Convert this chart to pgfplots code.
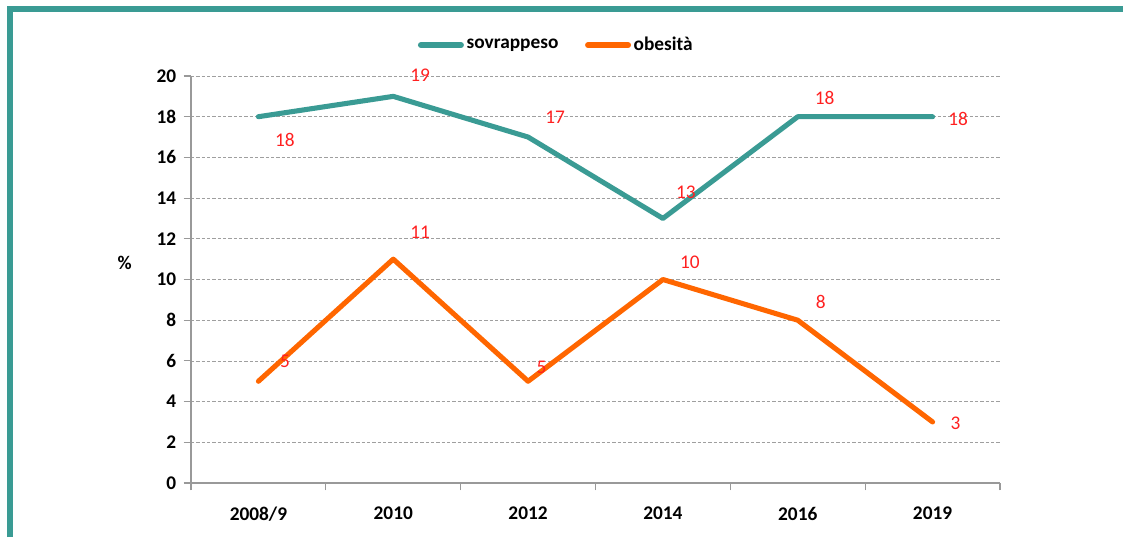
\documentclass[border=0pt]{standalone}
\usepackage{fontspec}
\setmainfont{Carlito}
\usepackage{pgfplots}
\pgfplotsset{compat=1.18}
\definecolor{teal1}{HTML}{3A9B94}
\definecolor{orng}{HTML}{FF6600}
\definecolor{lblred}{HTML}{FF2020}
\begin{document}
\begin{tikzpicture}
\path[use as bounding box] (0pt,0pt) rectangle (842.25pt,402.75pt);
\draw[teal1, line width=4.5pt] (7.5pt,0pt) -- (7.5pt,396pt) -- (842.25pt,396pt);
\begin{axis}[
  at={(143.25pt,40.5pt)}, anchor=south west,
  scale only axis, width=606.75pt, height=305.25pt,
  xmin=0, xmax=6, ymin=0, ymax=20,
  clip=false,
  axis x line*=bottom, axis y line*=left,
  axis line style={draw=gray!80, line width=0.8pt},
  xtick={0.5,1.5,2.5,3.5,4.5,5.5},
  xticklabels={2008/9,2010,2012,2014,2016,2019},
  xtick style={draw=none},
  minor xtick={0,1,2,3,4,5,6},
  minor x tick style={draw=gray!80, line width=0.8pt},
  minor tick length=5.5pt,
  ytick={0,2,...,20},
  ytick style={draw=gray!80, line width=0.8pt},
  major tick length=5.5pt,
  tick align=outside,
  ymajorgrids,
  grid style={dash pattern=on 2.5pt off 1.5pt, gray!75, line width=0.6pt},
  every tick label/.append style={font=\fontsize{14.5}{17}\selectfont\bfseries},
  /pgf/number format/assume math mode=true,
  xticklabel style={yshift=-9pt},
  yticklabel style={xshift=-2pt},
  ylabel={\%},
  ylabel style={rotate=-90, font=\fontsize{14.5}{17}\selectfont\bfseries, at={(rel axis cs:-0.082,0.54)}, anchor=center},
  legend style={draw=none, at={(0.452,1.076)}, anchor=center, legend columns=2,
    font=\fontsize{14.5}{17}\selectfont\bfseries, /tikz/every even column/.append style={column sep=18pt}},
  legend image code/.code={\draw[#1, line width=4.5pt, line cap=round] (0pt,0pt) -- (30pt,0pt);},
]
\addplot[teal1, line width=3.8pt, line join=round, line cap=round] coordinates {(0.5,18) (1.5,19) (2.5,17) (3.5,13) (4.5,18) (5.5,18)};
\addlegendentry{sovrappeso}
\addplot[orng, line width=3.8pt, line join=round, line cap=round] coordinates {(0.5,5) (1.5,11) (2.5,5) (3.5,10) (4.5,8) (5.5,3)};
\addlegendentry{obesità}
\begin{scope}[every node/.style={text=lblred, font=\fontsize{14.5}{17}\selectfont}]
\node at (axis cs:0.697,16.85) {18};
\node at (axis cs:1.70,20.05) {19};
\node at (axis cs:2.70,17.98) {17};
\node at (axis cs:3.67,14.3) {13};
\node at (axis cs:4.70,18.92) {18};
\node at (axis cs:5.69,17.89) {18};
\node at (axis cs:0.697,6.0) {5};
\node at (axis cs:1.70,12.33) {11};
\node at (axis cs:2.60,5.7) {5};
\node at (axis cs:3.70,10.86) {10};
\node at (axis cs:4.67,8.89) {8};
\node at (axis cs:5.67,2.95) {3};
\end{scope}
\end{axis}
\end{tikzpicture}
\end{document}
